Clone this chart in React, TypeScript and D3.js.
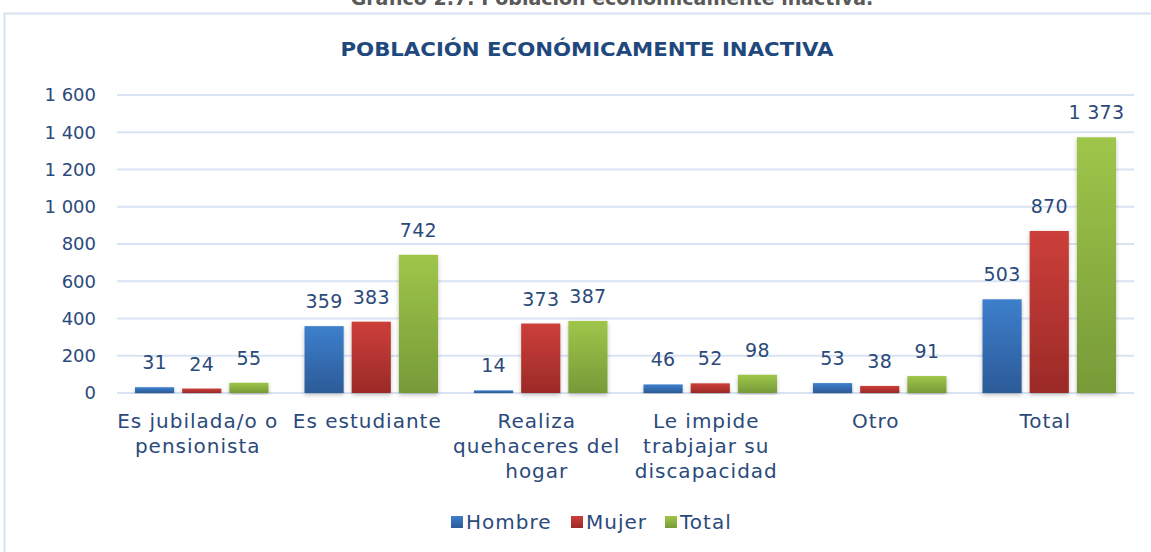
import React from 'react'
import { scaleBand, scaleLinear } from 'd3'

const categories = [
  ['Es jubilada/o o', 'pensionista'],
  ['Es estudiante'],
  ['Realiza', 'quehaceres del', 'hogar'],
  ['Le impide', 'trabjajar su', 'discapacidad'],
  ['Otro'],
  ['Total'],
]
const seriesNames = ['Hombre', 'Mujer', 'Total']
const hombre = [31, 359, 14, 46, 53, 503]
const mujer = [24, 383, 373, 52, 38, 870]
const total = [55, 742, 387, 98, 91, 1373]
const yTicks = [0, 200, 400, 600, 800, 1000, 1200, 1400, 1600]

const seriesValues = [hombre, mujer, total]
const gradients = [
  ['#3d7fcc', '#2c5b98'],
  ['#cc3f3a', '#9b2a27'],
  ['#9fc64a', '#779a38'],
]

const fmt = (v: number) => {
  const s = String(v)
  return s.length > 3 ? s.slice(0, s.length - 3) + ' ' + s.slice(-3) : s
}

const FONT = 'DejaVu Sans'
const TXT = '#2b4a7b'

export default function App() {
  const width = 1151
  const height = 552
  const left = 117
  const right = 1134
  const top = 95
  const bottom = 393

  const x0 = scaleBand<number>()
    .domain(categories.map((_, i) => i))
    .range([left, right])
  const x1 = scaleBand<number>()
    .domain([0, 1, 2])
    .range([18, x0.bandwidth() - 18])
    .paddingInner(0.17)
  const y = scaleLinear().domain([0, 1600]).range([bottom, top])

  return (
    <svg
      width={width}
      height={height}
      style={{ position: 'absolute', left: 0, top: 0, background: '#fff' }}
      fontFamily={FONT}
    >
      <defs>
        {gradients.map((g, i) => (
          <linearGradient key={i} id={'grad' + i} x1="0" y1="0" x2="0" y2="1">
            <stop offset="0%" stopColor={g[0]} />
            <stop offset="100%" stopColor={g[1]} />
          </linearGradient>
        ))}
        <filter id="shadow" x="-20%" y="-5%" width="140%" height="115%">
          <feDropShadow dx="0" dy="2" stdDeviation="2" floodColor="#000" floodOpacity="0.25" />
        </filter>
      </defs>

      <text x={612} y={5} textAnchor="middle" fontSize={19} fontWeight="bold" fill="#595959">
        Gráfico 2.7: Población económicamente inactiva.
      </text>

      <rect x={4.5} y={13.5} width={1160} height={560} fill="none" stroke="#d6e2f1" strokeWidth={2} />

      <text x={587} y={56} textAnchor="middle" fontSize={20} fontWeight="bold" fill="#1f497d"
        textLength={493} lengthAdjust="spacingAndGlyphs">
        POBLACIÓN ECONÓMICAMENTE INACTIVA
      </text>

      {yTicks.map(t => (
        <g key={t}>
          <line x1={left} x2={right} y1={y(t)} y2={y(t)} stroke="#d9e3f3" strokeWidth={2} />
          <text x={96} y={y(t)} dy="0.35em" textAnchor="end" fontSize={18} fill={TXT}>
            {fmt(t)}
          </text>
        </g>
      ))}

      {categories.map((_, ci) => (
        <g key={ci} transform={`translate(${x0(ci)},0)`}>
          {seriesValues.map((vals, si) => {
            const bx = x1(si) as number
            const bw = x1.bandwidth()
            const v = vals[ci]
            return (
              <g key={si}>
                <rect
                  x={bx}
                  y={y(v)}
                  width={bw}
                  height={bottom - y(v)}
                  fill={`url(#grad${si})`}
                  filter="url(#shadow)"
                />
                <text x={bx + bw / 2} y={y(v) - 18} textAnchor="middle" fontSize={19}
                  letterSpacing={0.3} fill={TXT}>
                  {fmt(v)}
                </text>
              </g>
            )
          })}
        </g>
      ))}

      {categories.map((lines, ci) => (
        <text key={ci} textAnchor="middle" fontSize={20} letterSpacing={1} fill={TXT}>
          {lines.map((l, li) => (
            <tspan key={li} x={(x0(ci) as number) + x0.bandwidth() / 2 - 4} y={428 + li * 25}>
              {l}
            </tspan>
          ))}
        </text>
      ))}

      {seriesNames.map((n, i) => {
        const lx = [451, 571, 665][i]
        return (
          <g key={n}>
            <rect x={lx} y={516} width={12} height={12} fill={`url(#grad${i})`} />
            <text x={lx + 15} y={529} fontSize={20} letterSpacing={1} fill={TXT}>
              {n}
            </text>
          </g>
        )
      })}
    </svg>
  )
}
